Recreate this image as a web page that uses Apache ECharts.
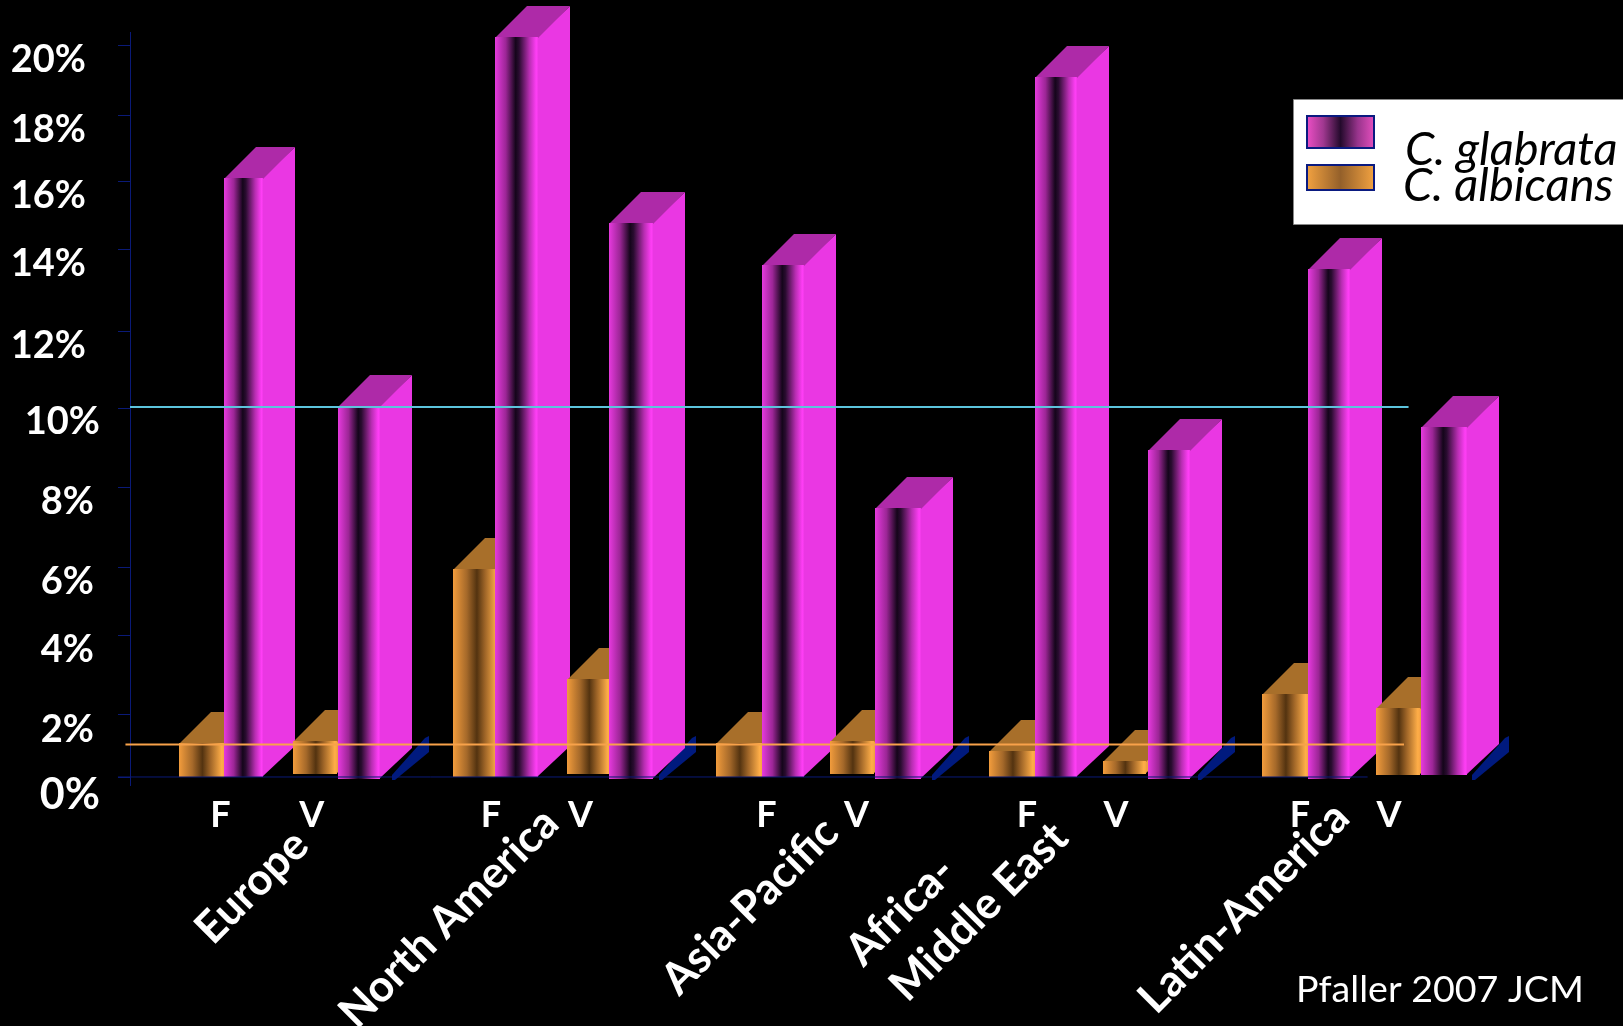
<!DOCTYPE html>
<html><head><meta charset="utf-8">
<style>html,body{margin:0;padding:0;background:#000}#c{width:1623px;height:1026px}</style>
<script src="https://cdn.jsdelivr.net/npm/echarts@6/dist/echarts.min.js"></script>
</head><body><div id="c"></div>
<script>
// ---- data ----
const regions = ['Europe','North America','Asia-Pacific','Africa-\nMiddle East','Latin-America'];
const albicansF = [0.92, 5.61, 0.92, 0.69, 2.23];
const glabrataF = [16.2, 20.0, 13.84, 18.93, 13.72];
const albicansV = [0.97, 2.65, 0.97, 0.43, 1.86];
const glabrataV = [10.03, 14.96, 7.26, 8.83, 9.45];
const tickLabels = ['0%','2%','4%','6%','8%','10%','12%','14%','16%','18%','20%'];
const drugLabels = ['F','V'];
const referenceLines = {glabrata: 10, albicans: 0.88};
const source = 'Pfaller 2007 JCM';
const legendNames = ['C. glabrata','C. albicans'];

// ---- hand-placed layout of the original slide ----
const tickSpots  = [0,1.70,3.84,5.68,7.82,9.97,12.05,14.27,16.11,17.88,19.78];
const labelSpots = [-0.48,1.27,3.44,5.27,7.44,9.60,11.65,13.87,15.71,17.49,19.38];
const regionStart = [2.15,14.2,25.76,37.76,49.76];
const drugSlots = [[3.97,7.99],[15.86,19.8],[27.97,31.93],[39.43,43.34],[51.43,55.34]];
const regionTextSpots = [[[252,887]],[[449,918]],[[750,906]],[[900.5,911],[979,912]],[[1244,908]]];
const baseLift = {aF:[0,0,0,0,0],gF:[0,0,0,0,-0.05],aV:[0.08,0.08,0.08,0.08,0.05],gV:[-0.05,-0.05,-0.05,-0.05,0.05]};
const slotShift = {aF:[0,0,0,0,0],gF:[0,-0.16,0,0,0],aV:[0,0,0,0,0],gV:[0,-0.13,0,0,0]};
const slotWidth = {aF:[2,2,2,2,2],gF:[1.68,1.89,1.87,1.87,1.87],aV:[1.95,1.9,1.95,1.9,1.95],gV:[1.82,1.91,2,1.82,2]};
const stripGap = [12,6,11,8,5];

const FONT = 'Lato';
const lg = (stops)=>({type:'linear',x:0,y:0,x2:1,y2:0,colorStops:stops.map(s=>({offset:s[0],color:s[1]}))});
const magentaFront = lg([[0,'#E63ADE'],[0.25,'#9C2696'],[0.48,'#14051A'],[0.56,'#2A0C30'],[0.8,'#B82EB2'],[0.96,'#FF3EF6'],[1,'#F03AE8']]);
const orangeFront  = lg([[0,'#F29C3C'],[0.3,'#A5692A'],[0.52,'#533310'],[0.7,'#A06628'],[0.95,'#FFAE48'],[1,'#F6A444']]);

function prism(lift, slotOffset, shift, widthSlots, front, sideColor, topColor, strip){
  return function(params, api){
    const r = params.dataIndex, v = api.value(1);
    const start = regionStart[r]+slotOffset+shift[r];
    const left = Math.round(api.coord([start, 0])[0]);
    const right = Math.round(api.coord([start+widthSlots[r], 0])[0]);
    const top = Math.round(api.coord([0, v])[1]);
    const base = Math.round(api.coord([0, lift[r]])[1]);
    const dx = 32, dy = 31;
    const kids = [
      {type:'polygon',shape:{points:[[right-1,top],[right+dx,top-dy],[right+dx,base-dy],[right-1,base]]},style:{fill:sideColor}},
      {type:'polygon',shape:{points:[[left,top+1],[left+dx,top-dy],[right+dx,top-dy],[right,top+1]]},style:{fill:topColor}},
      {type:'rect',shape:{x:left,y:top,width:right-left,height:base-top},style:{fill:front}}
    ];
    if(strip){
      const x = right+stripGap[r], y = api.coord([0,0])[1];
      kids.unshift({type:'polygon',shape:{points:[[x,y-2],[x+33,y-39],[x+37,y-41],[x+37,y-25],[x+3,y+3],[x,y+3]]},style:{fill:'#001A7E'}});
    }
    return {type:'group',children:kids};
  };
}
const toPairs = a => a.map((v,i)=>[i,v]);
function barSeries(name,data,render){
  return {name,type:'custom',clip:false,silent:true,data:toPairs(data),renderItem:render,encode:{x:0,y:1}};
}
function guide(name, from, to, value, color, w){
  return {name,type:'custom',clip:false,silent:true,z:5,data:[[from,value]],
    renderItem(p,api){
      const a=api.coord([from,value]), b=api.coord([to,value]);
      return {type:'line',shape:{x1:a[0],y1:a[1],x2:b[0],y2:b[1]},style:{stroke:color,lineWidth:w}};
    }};
}
const drugSpots = drugSlots.flat();
const regionTexts = regions.flatMap((t,i)=>t.split('\n').map((line,j)=>({line,at:regionTextSpots[i][j]})));
const option = {
  backgroundColor:'#000',
  animation:false,
  grid:{left:130,top:32,width:1365,height:763.5},
  xAxis:{type:'value',min:0,max:60,splitLine:{show:false},axisLine:{show:false},axisTick:{show:false},
    axisLabel:{show:true,customValues:drugSpots,margin:2,color:'#fff',fontFamily:FONT,fontWeight:'bold',fontSize:36,
      formatter:(v)=>drugLabels[drugSpots.indexOf(v)%2],hideOverlap:false,showMinLabel:true,showMaxLabel:true}},
  yAxis:{type:'value',min:-0.5,max:20.135,splitLine:{show:false},axisLine:{show:false},
    axisTick:{show:true,customValues:tickSpots,length:12,lineStyle:{color:'#0A1A78',width:1}},
    axisLabel:{show:true,customValues:labelSpots,margin:30,align:'right',color:'#fff',fontFamily:FONT,fontWeight:'bold',
      formatter:(v)=>{const i=labelSpots.indexOf(v),t=tickLabels[i];return '{'+(i===0?'big':(i===5?'ten':(i>5?'top':'mid')))+'|'+t+'}';},
      rich:{
        big:{fontFamily:FONT,fontWeight:'bold',fontSize:43,color:'#fff'},
        ten:{fontFamily:FONT,fontWeight:'bold',fontSize:38,color:'#fff'},
        mid:{fontFamily:FONT,fontWeight:'bold',fontSize:38,color:'#fff',padding:[0,6,0,0]},
        top:{fontFamily:FONT,fontWeight:'bold',fontSize:38,color:'#fff',padding:[0,14,0,0]}
      }}},
  series:[
    barSeries('C. albicans F',albicansF,prism(baseLift.aF,0,slotShift.aF,slotWidth.aF,orangeFront,'#EFA040','#A86F2A',false)),
    barSeries('C. glabrata F',glabrataF,prism(baseLift.gF,2,slotShift.gF,slotWidth.gF,magentaFront,'#EA37E3','#AE2AA8',false)),
    barSeries('C. albicans V',albicansV,prism(baseLift.aV,5,slotShift.aV,slotWidth.aV,orangeFront,'#EFA040','#A86F2A',false)),
    barSeries('C. glabrata V',glabrataV,prism(baseLift.gV,7,slotShift.gV,slotWidth.gV,magentaFront,'#EA37E3','#AE2AA8',true)),
    guide('x axis',-0.53,54.4,0,'#0A1A78',1),
    {name:'y axis',type:'custom',clip:false,silent:true,data:[[0,0]],renderItem(p,api){
      const a=api.coord([0,-0.243]),b=api.coord([0,20.135]);
      return {type:'line',shape:{x1:a[0]+.5,y1:a[1],x2:b[0]+.5,y2:b[1]},style:{stroke:'#0A1A78',lineWidth:1}};
    }},
    guide('glabrata reference',0,56.2,referenceLines.glabrata,'#5CC4DC',2),
    guide('albicans reference',-0.2,56,referenceLines.albicans,'#F8A24A',2)
  ],
  graphic:{elements:[
    {type:'rect',shape:{x:1293.5,y:99.5,width:340,height:125},style:{fill:'#fff',stroke:'#888',lineWidth:1},z:10},
    {type:'rect',shape:{x:1307,y:116,width:67,height:32},style:{fill:lg([[0,'#F050C8'],[0.25,'#A03890'],[0.5,'#240A2C'],[0.75,'#98348C'],[1,'#E850C0']]),stroke:'#0A1A80',lineWidth:2},z:11},
    {type:'rect',shape:{x:1307,y:165,width:67,height:25},style:{fill:lg([[0,'#F4A341'],[0.5,'#94602A'],[1,'#F4A341']]),stroke:'#0A1A80',lineWidth:2},z:11},
    {type:'text',x:1405,y:150,z:11,style:{text:legendNames[0],fill:'#000',font:'italic 47px '+FONT,align:'left',verticalAlign:'middle'}},
    {type:'text',x:1403,y:186,z:11,style:{text:legendNames[1],fill:'#000',font:'italic 47px '+FONT,align:'left',verticalAlign:'middle'}},
    {type:'text',x:1296,y:990,z:11,style:{text:source,fill:'#fff',font:'37.6px '+FONT,align:'left',verticalAlign:'middle'}},
    ...regionTexts.map(t=>({type:'text',x:t.at[0],y:t.at[1],rotation:Math.PI/4,z:11,
      style:{text:t.line,fill:'#fff',font:'bold 44px '+FONT,align:'center',verticalAlign:'middle'}}))
  ]}
};
const chart = echarts.init(document.getElementById('c'),null,{renderer:'canvas'});
chart.setOption(option);
</script></body></html>
